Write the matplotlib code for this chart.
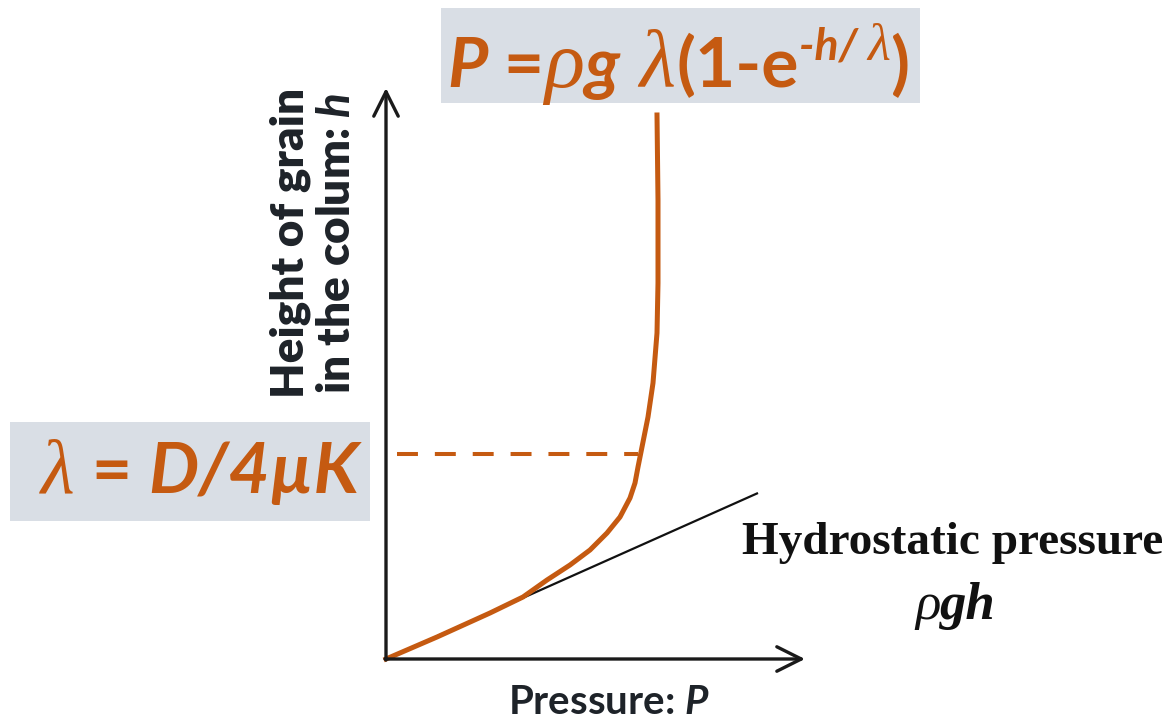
import matplotlib
matplotlib.use("Agg")
import matplotlib.pyplot as plt
from matplotlib.patches import Rectangle
from matplotlib.transforms import offset_copy

# curve (pressure P, height h), arbitrary units
janssen_P = [0.0, 0.51, 1.04, 1.37, 1.61, 1.84, 2.04, 2.21, 2.34, 2.44, 2.49, 2.52,
             2.56, 2.62, 2.67, 2.71, 2.72, 2.72, 2.71]
janssen_h = [0.0, 0.22, 0.46, 0.62, 0.79, 0.94, 1.09, 1.26, 1.42, 1.61, 1.76, 1.92,
             2.12, 2.42, 2.76, 3.26, 3.76, 4.59, 5.44]
hydro_P = [0.0, 3.72]
hydro_h = [0.0, 1.66]
lambda_P = [0.11, 2.52]
lambda_h = [2.05, 2.05]

ORANGE = '#C55A11'
BOXGRAY = '#D9DEE5'
DARK = '#1E2329'

plt.rcParams['mathtext.fontset'] = 'custom'
plt.rcParams['mathtext.bfit'] = 'Lato:bold:italic'
plt.rcParams['mathtext.bf'] = 'Lato:bold'

fig = plt.figure(figsize=(11.73, 7.21), dpi=100)
ax = fig.add_axes([0, 0, 1, 1])
ax.set_xlim(-3.86, 7.87)
ax.set_ylim(-0.62, 6.59)
ax.axis('off')

# axes with open arrow heads
arrow = dict(arrowstyle='->,head_length=1.1,head_width=0.55', lw=2.4, color='#1a1a1a',
             shrinkA=0, shrinkB=0, mutation_scale=16)
ax.annotate('', xy=(4.19, 0), xytext=(-0.01, 0), arrowprops=arrow)
ax.annotate('', xy=(0, 5.71), xytext=(0, -0.01), arrowprops=arrow)

ax.plot(hydro_P, hydro_h, color='#111111', lw=1.6, solid_capstyle='butt')
ax.plot(lambda_P, lambda_h, color=ORANGE, lw=2.9, dashes=(5.2, 4.2))
ax.plot(janssen_P, janssen_h, color=ORANGE, lw=3.6, solid_joinstyle='round')

# grey boxes
ax.add_patch(Rectangle((0.55, 5.56), 4.79, 0.95, facecolor=BOXGRAY, edgecolor='none', zorder=0))
ax.add_patch(Rectangle((-3.76, 1.38), 3.60, 0.99, facecolor=BOXGRAY, edgecolor='none', zorder=0))


def chain(x, y, pieces, color=ORANGE):
    # draw text pieces one after another along the baseline
    fig.canvas.draw()
    t = ax.transData
    r = fig.canvas.get_renderer()
    for s, kw in pieces:
        dy = kw.pop('dy', 0)
        txt = ax.text(x, y, s, transform=offset_copy(t, fig=fig, y=dy, units='dots'),
                      va='baseline', ha='left', color=color, **kw)
        ex = txt.get_window_extent(renderer=r)
        t = offset_copy(t, fig=fig, x=ex.width, units='dots')


sans = ['Lato', 'DejaVu Sans']
serif = ['Liberation Serif', 'DejaVu Serif']
chain(0.61, 5.72, [
    ('P', dict(family=sans, weight='bold', style='italic', size=50)),
    (' =', dict(family=sans, weight='bold', size=50)),
    ('ρ', dict(family=serif, style='italic', size=60)),
    ('g', dict(family=sans, weight='bold', style='italic', size=50)),
    (' λ', dict(family=serif, style='italic', size=60)),
    ('(1-e', dict(family=sans, weight='bold', size=50)),
    ('-h/ ', dict(family=sans, weight='bold', style='italic', size=32, dy=27)),
    ('λ', dict(family=serif, style='italic', size=38, dy=27)),
    (')', dict(family=sans, weight='bold', size=50)),
])

chain(-3.45, 1.66, [
    ('λ', dict(family=serif, style='italic', size=56)),
    (' = ', dict(family=sans, weight='bold', size=50)),
    ('D/4µK', dict(family=sans, weight='bold', style='italic', size=51)),
])

ax.text(-0.73, 4.16, 'Height of grain\nin the colum: $\\mathbfit{h}$', rotation=90,
        ha='center', va='center', multialignment='center', family=sans, weight='heavy',
        size=33, color=DARK, linespacing=1.15)

ax.text(2.23, -0.55, 'Pressure: $\\mathbfit{P}$', ha='center', va='baseline',
        family=sans, weight='bold', size=29, color=DARK)

ax.text(5.67, 1.05, 'Hydrostatic pressure', ha='center', va='baseline',
        family=serif, weight='bold', size=34, color='#111111')
chain(5.29, 0.40, [
    ('ρ', dict(family=serif, style='italic', size=38)),
    ('gh', dict(family=serif, weight='bold', style='italic', size=38)),
], color='#111111')

fig.savefig('out.png', dpi=100)
